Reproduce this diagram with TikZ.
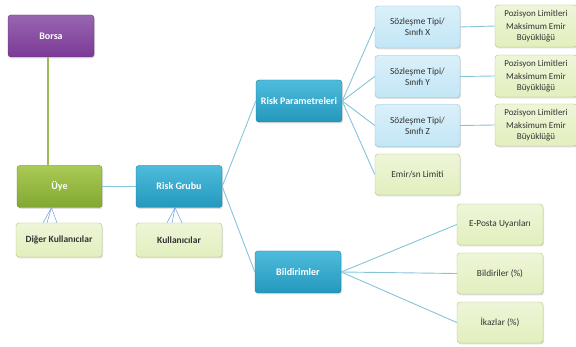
\documentclass[tikz,border=0pt]{standalone}
\usepackage{fontspec}
\setmainfont{Carlito}
\usepackage{tikz}
\usetikzlibrary{calc}
\usetikzlibrary{shadows}

\definecolor{mor}{HTML}{7B3A96}
\definecolor{morust}{HTML}{9865B0}
\definecolor{yesil}{HTML}{82A832}
\definecolor{yesilust}{HTML}{A9CA55}
\definecolor{mavi}{HTML}{2498BD}
\definecolor{maviust}{HTML}{4EBCDC}
\definecolor{acikyesil}{HTML}{E2EFBE}
\definecolor{acikyesilkenar}{HTML}{AFC872}
\definecolor{acikmavi}{HTML}{C2E6F6}
\definecolor{acikmavikenar}{HTML}{80C4E0}
\definecolor{hat}{HTML}{86C4DA}
\definecolor{hatyesil}{HTML}{9BBB59}

\tikzset{
  kutu/.style={rounded corners=3pt, minimum width=86pt, minimum height=42pt, inner sep=1pt, align=center, font=\fontsize{9.3}{11}\selectfont, drop shadow={opacity=0.25, shadow xshift=1pt, shadow yshift=-1.5pt}},
  koyu/.style={kutu, text=white, font=\fontsize{10}{12}\selectfont\bfseries},
  morkutu/.style={koyu, draw=mor!80!black, top color=morust, bottom color=mor},
  yesilkutu/.style={koyu, draw=yesil!80!black, top color=yesilust, bottom color=yesil},
  mavikutu/.style={koyu, draw=mavi!80!black, top color=maviust, bottom color=mavi},
  yaprak/.style={kutu, draw=acikyesilkenar, top color=acikyesil!60!white, bottom color=acikyesil, text=black!80},
  dal/.style={kutu, draw=acikmavikenar, top color=acikmavi!60!white, bottom color=acikmavi, text=black!80},
  baglanti/.style={draw=hat, line width=0.9pt},
  ince/.style={draw=hat!80!blue, line width=0.5pt}
}

\begin{document}
\begin{tikzpicture}[x=1pt, y=-1pt]

\useasboundingbox (0,0) rectangle (576,347);

\node (Borsa) at (51,36) [morkutu] {Borsa};
\node (Uye) at (59.5,186.5) [yesilkutu, minimum width=85pt] {Üye};
\node (RiskGrubu) at (179,186.5) [mavikutu] {Risk Grubu};
\node (Diger) at (59,240) [yaprak, minimum height=34pt, font=\fontsize{9.5}{11}\selectfont\bfseries] {Diğer Kullanıcılar};
\node (Kullanici) at (179,240) [yaprak, minimum height=34pt, font=\fontsize{9.5}{11}\selectfont\bfseries] {Kullanıcılar};

\node (RiskPar) at (299,101) [mavikutu] {Risk Parametreleri};
\node (Bildirim) at (298,272) [mavikutu] {Bildirimler};

\node (SX) at (417.5,27) [dal, minimum width=85pt] {Sözleşme Tipi/\\Sınıfı X};
\node (SY) at (417.5,76.5) [dal, minimum width=85pt] {Sözleşme Tipi/\\Sınıfı Y};
\node (SZ) at (417.5,125.5) [dal, minimum width=85pt] {Sözleşme Tipi/\\Sınıfı Z};
\node (Emir) at (417.5,174.5) [yaprak, minimum width=85pt, minimum height=41pt] {Emir/sn Limiti};

\foreach \s/\y in {SX/26, SY/76, SZ/125}{
  \node (P\s) at (536,\y) [yaprak, minimum width=82pt, font=\fontsize{9}{10.5}\selectfont] {Pozisyon Limitleri\\[3pt]Maksimum Emir\\Büyüklüğü};
  \draw[baglanti] (\s.east) -- (P\s.west);
}

\node (EPosta) at (500,224.5) [yaprak, minimum height=41pt] {E-Posta Uyarıları};
\node (Bildiri) at (500,273.5) [yaprak, minimum height=41pt] {Bildiriler (\%)};
\node (Ikaz) at (500,322.5) [yaprak, minimum height=41pt] {İkazlar (\%)};

\draw[draw=hatyesil, line width=1.2pt] ([xshift=-3pt]Borsa.south) -- ([xshift=-3pt]Borsa.south |- Uye.north);
\draw[baglanti, line width=1.2pt] (Uye.east) -- (RiskGrubu.west);
\draw[baglanti] (RiskGrubu.east) -- (RiskPar.west);
\draw[baglanti] (RiskGrubu.east) -- (Bildirim.west);

\foreach \h in {SX, SY, SZ, Emir}
  \draw[baglanti] (RiskPar.east) -- (\h.west);
\foreach \h in {EPosta, Bildiri, Ikaz}
  \draw[baglanti] (Bildirim.east) -- (\h.west);

\foreach \d in {-16,-12,-2}
  \draw[ince] ([xshift=\d pt]Diger.north) -- ([xshift=-8pt]Uye.south);
\foreach \d in {-12,-7,3}
  \draw[ince] ([xshift=\d pt]Kullanici.north) -- ([xshift=-4pt]RiskGrubu.south);

\end{tikzpicture}
\end{document}
